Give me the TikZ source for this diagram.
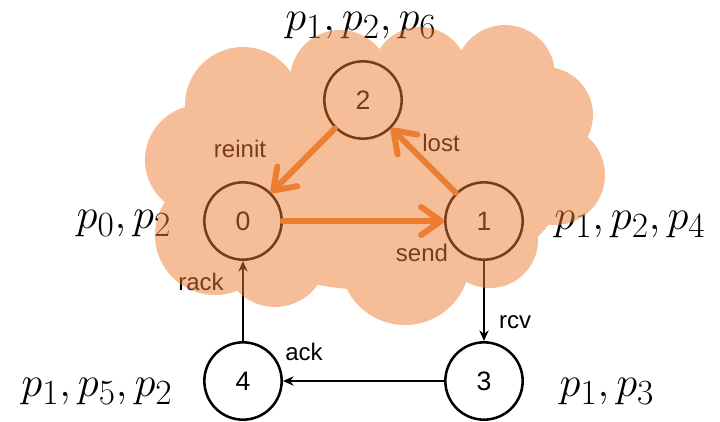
\documentclass[tikz,border=0pt]{standalone}
\usepackage{graphicx}
\usepackage{fontspec}
\newfontfamily\labelfont{Liberation Sans}
\usetikzlibrary{arrows.meta}
\definecolor{cloudorange}{HTML}{ED7D31}
\newcommand{\bigset}[1]{\scalebox{1.28}{\Huge$#1$}}

\begin{document}
\begin{tikzpicture}[x=0.75pt,y=-0.75pt]
\tikzstyle{state}=[draw, circle, line width=1.9pt, minimum size=58pt, inner sep=0pt, font=\labelfont\fontsize{20}{22}\selectfont]
\tikzstyle{arrow}=[-{Stealth[length=8pt,width=7pt]}, draw, line width=1pt]
\tikzstyle{hot}=[-{Straight Barb[length=15pt,width=21pt,round]}, draw=cloudorange, line width=4.5pt, line cap=round]
\tikzstyle{tag}=[font=\labelfont\fontsize{18}{20}\selectfont, inner sep=0pt]
\tikzstyle{set}=[inner sep=0pt, anchor=base]
\useasboundingbox (0,0) rectangle (720,421);

\node[state] (s0) at (243,221) {0};
\node[state] (s1) at (484,221) {1};
\node[state] (s2) at (363,100) {2};
\node[state] (s3) at (484,381) {3};
\node[state] (s4) at (243,381) {4};

\node[tag] (reinit) at (240,149) {reinit};
\node[tag] (lost) at (441,143) {lost};
\node[tag] (send) at (422,253) {send};
\node[tag] (rack) at (201,282) {rack};
\node[tag] (rcv) at (515,322) {rcv};
\node[tag] (ack) at (304,352) {ack};

\draw[arrow]  (s1) edge (s3);
\draw[arrow]  (s3) edge (s4);
\draw[arrow]  (s4) edge (s0);

\node[set] (l2) at (361,30) {\bigset{p_1,p_2,p_6}};
\node[set] (l0) at (124,228) {\bigset{p_0,p_2}};
\node[set] (l1) at (630,229) {\bigset{p_1,p_2,p_4}};
\node[set] (l4) at (97,396) {\bigset{p_1,p_5,p_2}};
\node[set] (l3) at (607,396) {\bigset{p_1,p_3}};

% cloud
\fill[cloudorange, fill opacity=0.5]
  (375,180) ellipse (190 and 110)
  (243,105) circle (58)
  (200,160) circle (55)
  (215,235) circle (60)
  (275,255) circle (52)
  (405,260) circle (65)
  (490,240) circle (48)
  (555,175) circle (50)
  (545,115) circle (48)
  (505,75) circle (50)
  (420,75) circle (48)
  (340,80) circle (50);

\draw[hot]  (s0) -- (s1);
\draw[hot]  (s2) -- (s0);
\draw[hot]  (s1) -- (s2);
\end{tikzpicture}
\end{document}
